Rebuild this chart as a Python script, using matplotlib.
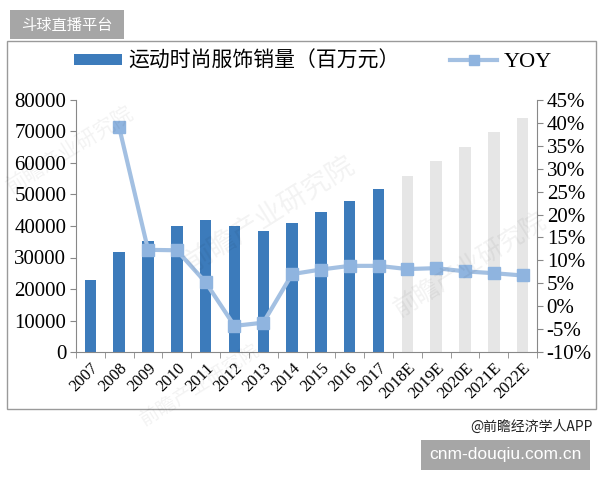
import matplotlib
matplotlib.use("Agg")
import matplotlib.pyplot as plt
from matplotlib.patches import Rectangle, Patch
from matplotlib.lines import Line2D
import numpy as np

categories = ["2007", "2008", "2009", "2010", "2011", "2012", "2013", "2014",
              "2015", "2016", "2017", "2018E", "2019E", "2020E", "2021E", "2022E"]
sales = [22900, 31800, 35300, 40000, 41800, 40000, 38400, 41000,
         44300, 47900, 51900, 55800, 60500, 65200, 69700, 74200]
forecast = [False] * 11 + [True] * 5
yoy_years = categories[1:]
yoy = [39.0, 12.3, 12.2, 5.2, -4.3, -3.6, 7.0, 8.0, 8.8, 8.8, 8.1, 8.3, 7.6, 7.2, 6.7]

BAR = "#3c7bbb"
BAR_F = "#e6e6e6"
LINE = "#a3c0e2"
MARK = "#8fb4df"
SERIF = ["Liberation Serif", "DejaVu Serif"]
CJK = ["Noto Sans CJK SC", "DejaVu Sans"]

fig = plt.figure(figsize=(6, 4.8), dpi=100)
fig.patch.set_facecolor("white")

# outer frame
fig.patches.append(Rectangle((7 / 600, 1 - 409 / 480), 589 / 600, 368 / 480,
                             transform=fig.transFigure, fill=False,
                             edgecolor="#9a9a9a", linewidth=1.0))

# header box
fig.patches.append(Rectangle((10 / 600, 1 - 39 / 480), 114 / 600, 29 / 480,
                             transform=fig.transFigure, facecolor="#a6a6a6",
                             edgecolor="none"))
fig.text(67 / 600, 1 - 25 / 480, "斗球直播平台", color="white", fontsize=11,
         family=CJK, ha="center", va="center")

# watermarks
for (x, y, s) in [(70 / 600, 1 - 150 / 480, 15), (270 / 600, 1 - 215 / 480, 20),
                  (470 / 600, 1 - 265 / 480, 18), (200 / 600, 1 - 385 / 480, 14)]:
    fig.text(x, y, "前瞻产业研究院", fontsize=s, family=CJK, color="#000000",
             alpha=0.05, rotation=32, ha="center", va="center")

ax = fig.add_axes([76 / 600, 1 - 352 / 480, 461 / 600, 252 / 480])
ax.set_facecolor("none")
x = np.arange(len(categories))
colors = [BAR_F if f else BAR for f in forecast]
ax.bar(x, sales, width=0.4, color=colors, zorder=2)
ax.set_xlim(-0.5, len(categories) - 0.5)
ax.set_ylim(0, 80000)
ax.set_yticks(np.arange(0, 80001, 10000))
ax.set_yticklabels([f"{v}" for v in range(0, 80001, 10000)], family=SERIF, fontsize=15)
ax.set_xticks(x)
ax.set_xticklabels(categories, rotation=45, ha="right", rotation_mode="anchor",
                   family=SERIF, fontsize=12)
ax.set_xticks(np.arange(-0.5, len(categories), 1), minor=True)
ax.tick_params(axis="x", which="major", length=0, pad=6)
ax.tick_params(axis="x", which="minor", length=4, color="#888888", direction="out")
ax.tick_params(axis="y", length=4, color="#888888", pad=3)
for s in ["top", "right"]:
    ax.spines[s].set_visible(False)
for s in ["left", "bottom"]:
    ax.spines[s].set_color("#888888")

ax2 = ax.twinx()
ax2.set_ylim(-10, 45)
ax2.set_yticks(np.arange(-10, 46, 5))
ax2.set_yticklabels([f"{v}%" for v in range(-10, 46, 5)], family=SERIF, fontsize=15)
ax2.tick_params(axis="y", length=4, color="#888888", pad=3)
for s in ["top", "left", "bottom"]:
    ax2.spines[s].set_visible(False)
ax2.spines["right"].set_color("#888888")
xi = [categories.index(c) for c in yoy_years]
ax2.plot(xi, yoy, color=LINE, linewidth=3, marker="s", markersize=9,
         markerfacecolor=MARK, markeredgecolor=MARK, zorder=3)

# legend
handles = [Patch(facecolor=BAR, edgecolor="none"),
           Line2D([0], [0], color=LINE, linewidth=3, marker="s", markersize=7,
                  markerfacecolor=MARK, markeredgecolor=MARK)]
leg = fig.legend(handles, ["运动时尚服饰销量（百万元）", "YOY"], loc="center",
                 bbox_to_anchor=(313 / 600, 1 - 61 / 480), ncol=2, frameon=False,
                 handlelength=2.3, handleheight=0.45, columnspacing=2.4,
                 handletextpad=0.3, fontsize=15)
leg.get_texts()[0].set_family(CJK)
leg.get_texts()[1].set_family(SERIF)
leg.get_texts()[1].set_fontsize(16)

fig.text(593 / 600, 1 - 427 / 480, "@前瞻经济学人APP", fontsize=10, family=CJK,
         ha="right", va="center", color="#222222")
fig.patches.append(Rectangle((421 / 600, 1 - 470 / 480), 169 / 600, 30 / 480,
                             transform=fig.transFigure, facecolor="#a6a6a6",
                             edgecolor="none"))
fig.text(505 / 600, 1 - 455 / 480, "cnm-douqiu.com.cn", color="white", fontsize=12.5,
         family=["Liberation Sans", "DejaVu Sans"], ha="center", va="center")

fig.savefig("out.png", dpi=100)
